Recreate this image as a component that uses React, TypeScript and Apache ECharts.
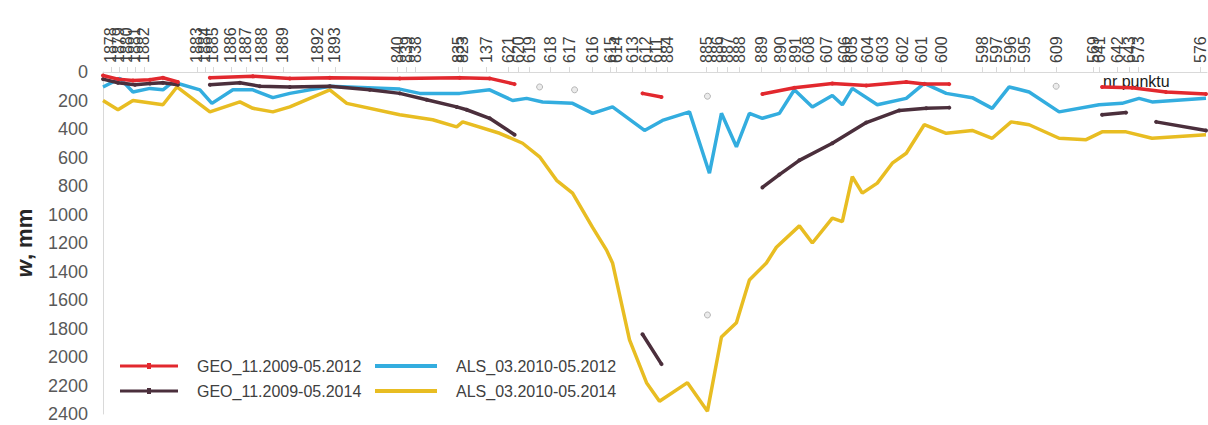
import React, { useEffect, useRef } from "react";
import * as echarts from "echarts";

// Point numbers along the profile and their distance along it (m)
const stationNames = [
  "1877", "1878", "1879", "1880", "1881", "1882",
  "1883", "1884", "1885", "1886", "1887", "1888", "1889",
  "1892", "1893",
  "840", "839", "838",
  "835", "823",
  "137",
  "621", "620", "619", "618", "617", "616",
  "615", "614", "613", "612", "611", "884",
  "885", "886", "887", "888", "889",
  "890", "891", "608", "607", "606", "605", "604", "603", "602", "601", "600",
  "598", "597", "596", "595",
  "609",
  "569", "641", "642", "643", "573",
  "576",
];
const stationDist = [
  0, 8, 16, 24, 32, 41,
  94, 102, 110, 128, 143, 159, 180,
  215, 232,
  295, 304, 313,
  356, 360,
  384,
  406, 416, 427, 448, 467, 490,
  508, 514, 530, 543, 554, 565,
  604, 615, 625, 637, 659,
  678, 693, 706, 724, 742, 749, 765, 780, 800, 819, 839,
  880, 894, 908, 922,
  954,
  991, 997, 1015, 1027, 1036,
  1098,
];

// GEO_11.2009-05.2012 (null = gap)
const geo2012Dist = [0, 15, 30, 47, 60, 75, 90, 107, 150, 187, 227, 297, 357, 387, 412, 470, 540, 559, 600, 660, 692, 730, 764, 804, 822, 847, 950, 1000, 1030, 1064, 1104];
const geo2012Val = [25, 50, 60, 55, 40, 70, null, 40, 30, 45, 40, 45, 40, 45, 85, null, 150, 175, null, 155, 110, 80, 95, 70, 85, 85, null, 105, 110, 140, 155];

// GEO_11.2009-05.2014
const geo2014Dist = [0, 15, 32, 47, 60, 75, 90, 107, 137, 157, 187, 227, 267, 297, 324, 354, 364, 387, 412, 470, 540, 559, 600, 660, 677, 697, 730, 764, 797, 824, 847, 950, 1000, 1024, 1040, 1054, 1104];
const geo2014Val = [50, 75, 90, 80, 75, 90, null, 90, 75, 100, 105, 100, 125, 150, 195, 245, 265, 325, 440, null, 1840, 2050, null, 810, 720, 620, 500, 355, 270, 255, 250, null, 300, 285, null, 350, 410];

// ALS_03.2010-05.2012
const als2012Dist = [0, 17, 30, 47, 60, 70, 97, 109, 130, 150, 170, 187, 227, 297, 317, 357, 387, 410, 424, 440, 470, 490, 510, 542, 560, 587, 607, 619, 634, 647, 660, 677, 692, 710, 730, 740, 750, 775, 804, 822, 844, 870, 890, 907, 927, 957, 997, 1020, 1037, 1050, 1104];
const als2012Val = [105, 45, 140, 115, 125, 70, 125, 220, 125, 125, 180, 150, 100, 120, 150, 150, 125, 200, 185, 210, 220, 290, 245, 410, 340, 280, 710, 290, 525, 290, 325, 290, 125, 245, 165, 230, 115, 230, 185, 80, 150, 180, 255, 105, 140, 280, 230, 220, 185, 210, 185];

// ALS_03.2010-05.2014
const als2014Dist = [0, 15, 30, 60, 74, 107, 137, 150, 170, 187, 227, 244, 297, 330, 354, 360, 397, 420, 437, 454, 470, 490, 504, 510, 527, 544, 557, 585, 605, 619, 634, 647, 664, 674, 697, 710, 730, 740, 750, 760, 775, 790, 804, 822, 844, 870, 890, 909, 927, 957, 984, 1000, 1024, 1050, 1104];
const als2014Val = [200, 265, 200, 230, 105, 280, 210, 255, 280, 245, 125, 220, 300, 335, 385, 350, 430, 500, 595, 760, 850, 1090, 1250, 1340, 1880, 2180, 2310, 2180, 2380, 1860, 1760, 1460, 1340, 1230, 1080, 1200, 1025, 1050, 735, 850, 780, 640, 570, 370, 430, 410, 465, 350, 370, 465, 475, 420, 420, 465, 440];

// isolated grey points
const greyDist = [437, 472, 605, 605, 954];
const greyVal = [105, 125, 170, 1705, 100];

const yTicks = { min: 0, max: 2400, interval: 200 };

const seriesNames = [
  "GEO_11.2009-05.2012",
  "GEO_11.2009-05.2014",
  "ALS_03.2010-05.2012",
  "ALS_03.2010-05.2014",
];
const colors = ["#e2282e", "#4b2f3c", "#33addf", "#e8bd22"];

const pairs = (d: number[], v: (number | null)[]) =>
  d.map((x, i) => [x, v[i] === null ? "-" : v[i]]);

const ICON_MARK = "path://M0,1.5L58,1.5L58,4.5L0,4.5Z M27,0L31,0L31,6L27,6Z";
const ICON_LINE = "path://M0,0L62,0L62,4L0,4Z";

export default function App() {
  const ref = useRef<HTMLDivElement>(null);
  useEffect(() => {
    if (!ref.current) return;
    const chart = echarts.init(ref.current, null, { renderer: "svg" });
    const nameOf: Record<number, string> = {};
    stationDist.forEach((d, i) => (nameOf[d] = stationNames[i]));
    const font = "Liberation Sans";
    const lineSeries = (idx: number, d: number[], v: (number | null)[], marker: boolean) => ({
      type: "line",
      name: seriesNames[idx],
      data: pairs(d, v),
      connectNulls: false,
      symbol: marker ? "circle" : "none",
      symbolSize: 4,
      showSymbol: marker,
      lineStyle: { color: colors[idx], width: 3.5 },
      itemStyle: { color: colors[idx] },
      z: idx === 3 ? 2 : idx === 2 ? 3 : 4,
    });
    const legendText = { fontSize: 16, color: "#404040", padding: [0, 0, 0, 14], fontFamily: font };
    chart.setOption({
      animation: false,
      textStyle: { fontFamily: font },
      grid: { left: 103, right: 0, top: 72, bottom: 11, containLabel: false },
      xAxis: {
        type: "value",
        position: "top",
        min: 0,
        max: 1105,
        axisLine: { show: true, lineStyle: { color: "#d9d9d9", width: 1 } },
        axisTick: {
          show: true,
          inside: false,
          length: 5,
          customValues: stationDist,
          lineStyle: { color: "#d9d9d9" },
        },
        axisLabel: {
          show: true,
          rotate: 90,
          margin: 9,
          customValues: stationDist,
          formatter: (v: number) => nameOf[v] ?? "",
          fontSize: 16,
          color: "#404040",
          fontFamily: font,
        },
        splitLine: { show: false },
      },
      yAxis: {
        type: "value",
        inverse: true,
        min: yTicks.min,
        max: yTicks.max,
        interval: yTicks.interval,
        name: "{i|w}, mm",
        nameLocation: "middle",
        nameGap: 68,
        nameRotate: 90,
        nameTextStyle: {
          fontSize: 22,
          fontWeight: "bold",
          color: "#262626",
          fontFamily: font,
          rich: {
            i: { fontSize: 22, fontWeight: "bold", fontStyle: "italic", color: "#262626", fontFamily: font },
          },
        },
        axisLine: { show: true, lineStyle: { color: "#d9d9d9" } },
        axisTick: { show: false },
        axisLabel: {
          fontSize: 18,
          color: "#595959",
          margin: 15,
          fontFamily: font,
          formatter: (v: number) => String(v),
        },
        splitLine: { show: false },
      },
      legend: [
        {
          orient: "vertical",
          left: 120,
          top: 358,
          height: 66,
          padding: 0,
          itemWidth: 58,
          itemHeight: 6,
          itemGap: 9,
          data: [
            { name: seriesNames[0], icon: ICON_MARK },
            { name: seriesNames[1], icon: ICON_MARK },
          ],
          textStyle: legendText,
        },
        {
          orient: "vertical",
          left: 375,
          top: 358,
          height: 66,
          padding: 0,
          itemWidth: 62,
          itemHeight: 4,
          itemGap: 9,
          data: [
            { name: seriesNames[2], icon: ICON_LINE },
            { name: seriesNames[3], icon: ICON_LINE },
          ],
          textStyle: legendText,
        },
      ],
      graphic: [
        {
          type: "text",
          left: 1103,
          top: 73,
          style: { text: "nr punktu", fontSize: 16, fill: "#1a1a1a", fontFamily: font },
          z: 1,
        },
      ],
      series: [
        lineSeries(3, als2014Dist, als2014Val, false),
        lineSeries(2, als2012Dist, als2012Val, false),
        lineSeries(1, geo2014Dist, geo2014Val, true),
        lineSeries(0, geo2012Dist, geo2012Val, true),
        {
          type: "scatter",
          name: "points",
          data: pairs(greyDist, greyVal),
          symbol: "circle",
          symbolSize: 6,
          itemStyle: { color: "#e6e6e6", borderColor: "#a6a6a6", borderWidth: 1 },
          z: 1,
        },
      ],
    });
    return () => chart.dispose();
  }, []);
  return (
    <div
      ref={ref}
      style={{ position: "fixed", left: 0, top: 0, width: 1208, height: 425, background: "#fff" }}
    />
  );
}
